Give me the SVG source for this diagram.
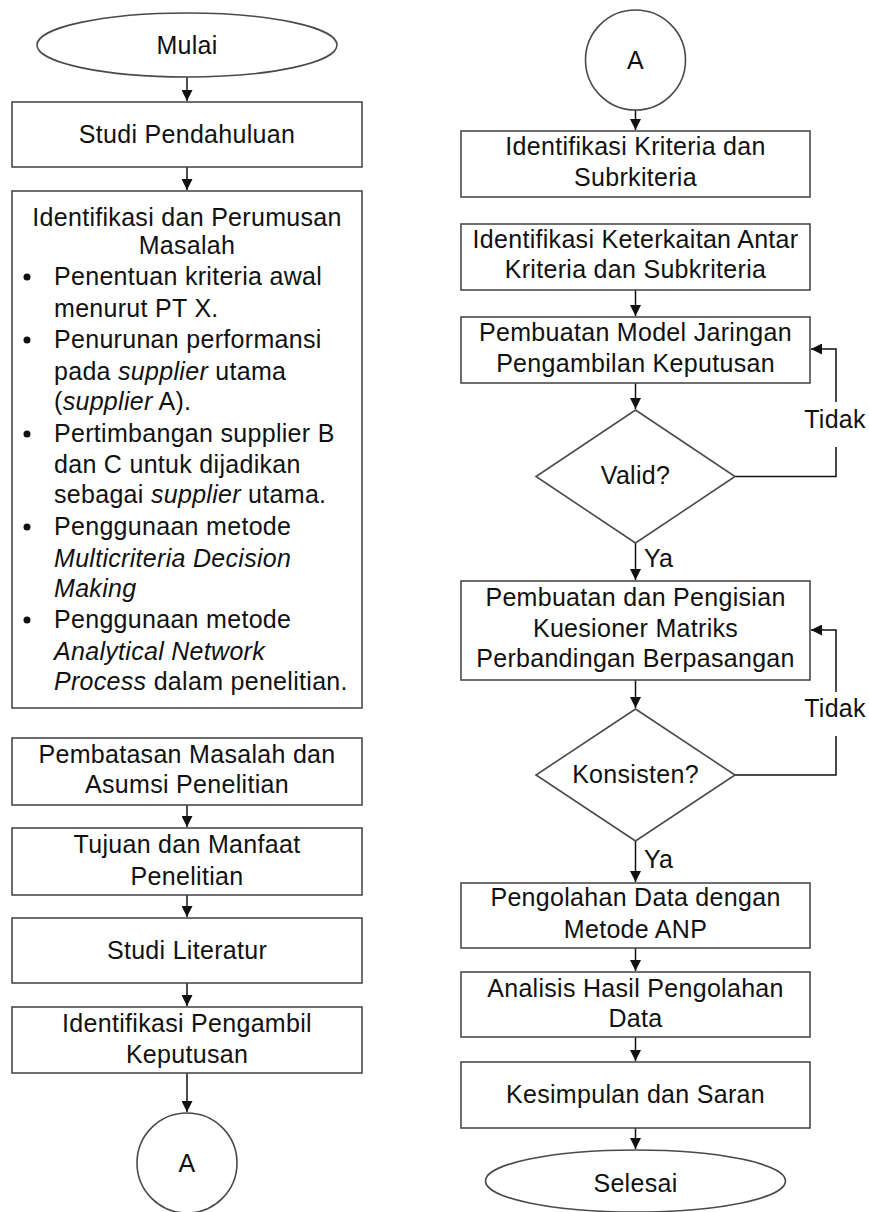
<svg xmlns="http://www.w3.org/2000/svg" width="869" height="1212" viewBox="0 0 869 1212">
<style>
  .box{fill:#fff;stroke:#4a4a4a;stroke-width:1.6}
  .t{font-family:"Liberation Sans",Arial,sans-serif;font-size:25px;fill:#111;text-anchor:middle;letter-spacing:0.3px}
  .tl{font-family:"Liberation Sans",Arial,sans-serif;font-size:25px;fill:#111;letter-spacing:0.3px}
  .it{font-style:italic}
  .ln{fill:none;stroke:#111;stroke-width:1.5}
</style>
<defs>
  <marker id="arr" markerWidth="11" markerHeight="11" refX="11" refY="5.5" orient="auto" markerUnits="userSpaceOnUse">
    <path d="M0,0 L11,5.5 L0,11 z" fill="#111"/>
  </marker>
</defs>
<rect width="869" height="1212" fill="#fff"/>

<g id="connectors">
  <path class="ln" d="M187,77 V101" marker-end="url(#arr)"/>
  <path class="ln" d="M187,167 V190" marker-end="url(#arr)"/>
  <path class="ln" d="M187,805 V827" marker-end="url(#arr)"/>
  <path class="ln" d="M187,895 V917" marker-end="url(#arr)"/>
  <path class="ln" d="M187,983 V1006" marker-end="url(#arr)"/>
  <path class="ln" d="M187,1073 V1112" marker-end="url(#arr)"/>
  <path class="ln" d="M635.5,110 V130" marker-end="url(#arr)"/>
  <path class="ln" d="M635.5,290 V316" marker-end="url(#arr)"/>
  <path class="ln" d="M635.5,383 V409" marker-end="url(#arr)"/>
  <path class="ln" d="M735,476.5 H836 V447 M836,402 V349 H811" marker-end="url(#arr)"/>
  <path class="ln" d="M635.5,543 V580" marker-end="url(#arr)"/>
  <path class="ln" d="M635.5,680 V708" marker-end="url(#arr)"/>
  <path class="ln" d="M735,775 H836 V736 M836,692 V630 H811" marker-end="url(#arr)"/>
  <path class="ln" d="M635.5,841 V882" marker-end="url(#arr)"/>
  <path class="ln" d="M635.5,948 V971" marker-end="url(#arr)"/>
  <path class="ln" d="M635.5,1037 V1061" marker-end="url(#arr)"/>
  <path class="ln" d="M635.5,1128 V1149" marker-end="url(#arr)"/>
  <text class="t" x="835" y="428">Tidak</text>
  <text class="t" x="835" y="717">Tidak</text>
  <text class="tl" x="644" y="567">Ya</text>
  <text class="tl" x="644" y="868">Ya</text>
</g>

<g id="mulai">
  <ellipse class="box" cx="187" cy="45" rx="150" ry="32"/>
  <text class="t" x="187" y="54">Mulai</text>
</g>
<g id="studi-pendahuluan">
  <rect class="box" x="12" y="102" width="350" height="65"/>
  <text class="t" x="187" y="143">Studi Pendahuluan</text>
</g>
<g id="identifikasi-masalah">
  <rect class="box" x="12" y="191" width="350" height="517"/>
  <text class="t" x="187" y="226">Identifikasi dan Perumusan</text>
  <text class="t" x="187" y="254">Masalah</text>
  <g fill="#111">
    <circle cx="27" cy="277" r="3.5"/>
    <circle cx="27" cy="340" r="3.5"/>
    <circle cx="27" cy="434" r="3.5"/>
    <circle cx="27" cy="527" r="3.5"/>
    <circle cx="27" cy="620" r="3.5"/>
  </g>
  <text class="tl" x="54" y="285">Penentuan kriteria awal</text>
  <text class="tl" x="54" y="317">menurut PT X.</text>
  <text class="tl" x="54" y="348">Penurunan performansi</text>
  <text class="tl" x="54" y="380">pada <tspan class="it">supplier</tspan> utama</text>
  <text class="tl" x="54" y="410">(<tspan class="it">supplier</tspan> A).</text>
  <text class="tl" x="54" y="442">Pertimbangan supplier B</text>
  <text class="tl" x="54" y="473">dan C untuk dijadikan</text>
  <text class="tl" x="54" y="503">sebagai <tspan class="it">supplier</tspan> utama.</text>
  <text class="tl" x="54" y="535">Penggunaan metode</text>
  <text class="tl it" x="54" y="567">Multicriteria Decision</text>
  <text class="tl it" x="54" y="597">Making</text>
  <text class="tl" x="54" y="628">Penggunaan metode</text>
  <text class="tl it" x="54" y="660">Analytical Network</text>
  <text class="tl" x="54" y="690"><tspan class="it">Process</tspan> dalam penelitian.</text>
</g>
<g id="pembatasan">
  <rect class="box" x="12" y="738" width="350" height="67"/>
  <text class="t" x="187" y="763">Pembatasan Masalah dan</text>
  <text class="t" x="187" y="793">Asumsi Penelitian</text>
</g>
<g id="tujuan">
  <rect class="box" x="12" y="828" width="350" height="67"/>
  <text class="t" x="187" y="853">Tujuan dan Manfaat</text>
  <text class="t" x="187" y="885">Penelitian</text>
</g>
<g id="studi-literatur">
  <rect class="box" x="12" y="918" width="350" height="65"/>
  <text class="t" x="187" y="959">Studi Literatur</text>
</g>
<g id="identifikasi-pengambil">
  <rect class="box" x="12" y="1007" width="350" height="66"/>
  <text class="t" x="187" y="1032">Identifikasi Pengambil</text>
  <text class="t" x="187" y="1063">Keputusan</text>
</g>
<g id="konektor-a-out">
  <circle class="box" cx="187" cy="1163" r="50"/>
  <text class="t" x="187" y="1172">A</text>
</g>

<g id="konektor-a-in">
  <circle class="box" cx="635.5" cy="60" r="50"/>
  <text class="t" x="635.5" y="69">A</text>
</g>
<g id="identifikasi-kriteria">
  <rect class="box" x="461" y="131" width="349" height="66"/>
  <text class="t" x="635.5" y="155">Identifikasi Kriteria dan</text>
  <text class="t" x="635.5" y="186">Subrkiteria</text>
</g>
<g id="identifikasi-keterkaitan">
  <rect class="box" x="461" y="224" width="349" height="66"/>
  <text class="t" x="635.5" y="248">Identifikasi Keterkaitan Antar</text>
  <text class="t" x="635.5" y="278">Kriteria dan Subkriteria</text>
</g>
<g id="model-jaringan">
  <rect class="box" x="461" y="317" width="349" height="66"/>
  <text class="t" x="635.5" y="341">Pembuatan Model Jaringan</text>
  <text class="t" x="635.5" y="372">Pengambilan Keputusan</text>
</g>
<g id="valid">
  <polygon class="box" points="635.5,410 735,476.5 635.5,543 536,476.5"/>
  <text class="t" x="635.5" y="484">Valid?</text>
</g>
<g id="kuesioner">
  <rect class="box" x="461" y="581" width="349" height="99"/>
  <text class="t" x="635.5" y="606">Pembuatan dan Pengisian</text>
  <text class="t" x="635.5" y="637">Kuesioner Matriks</text>
  <text class="t" x="635.5" y="667">Perbandingan Berpasangan</text>
</g>
<g id="konsisten">
  <polygon class="box" points="635.5,709 735,775 635.5,841 536,775"/>
  <text class="t" x="635.5" y="783">Konsisten?</text>
</g>
<g id="pengolahan">
  <rect class="box" x="461" y="883" width="349" height="65"/>
  <text class="t" x="635.5" y="906">Pengolahan Data dengan</text>
  <text class="t" x="635.5" y="938">Metode ANP</text>
</g>
<g id="analisis">
  <rect class="box" x="461" y="972" width="349" height="65"/>
  <text class="t" x="635.5" y="997">Analisis Hasil Pengolahan</text>
  <text class="t" x="635.5" y="1027">Data</text>
</g>
<g id="kesimpulan">
  <rect class="box" x="461" y="1062" width="349" height="66"/>
  <text class="t" x="635.5" y="1103">Kesimpulan dan Saran</text>
</g>
<g id="selesai">
  <ellipse class="box" cx="635.5" cy="1181" rx="150" ry="31"/>
  <text class="t" x="635.5" y="1192">Selesai</text>
</g>
</svg>
